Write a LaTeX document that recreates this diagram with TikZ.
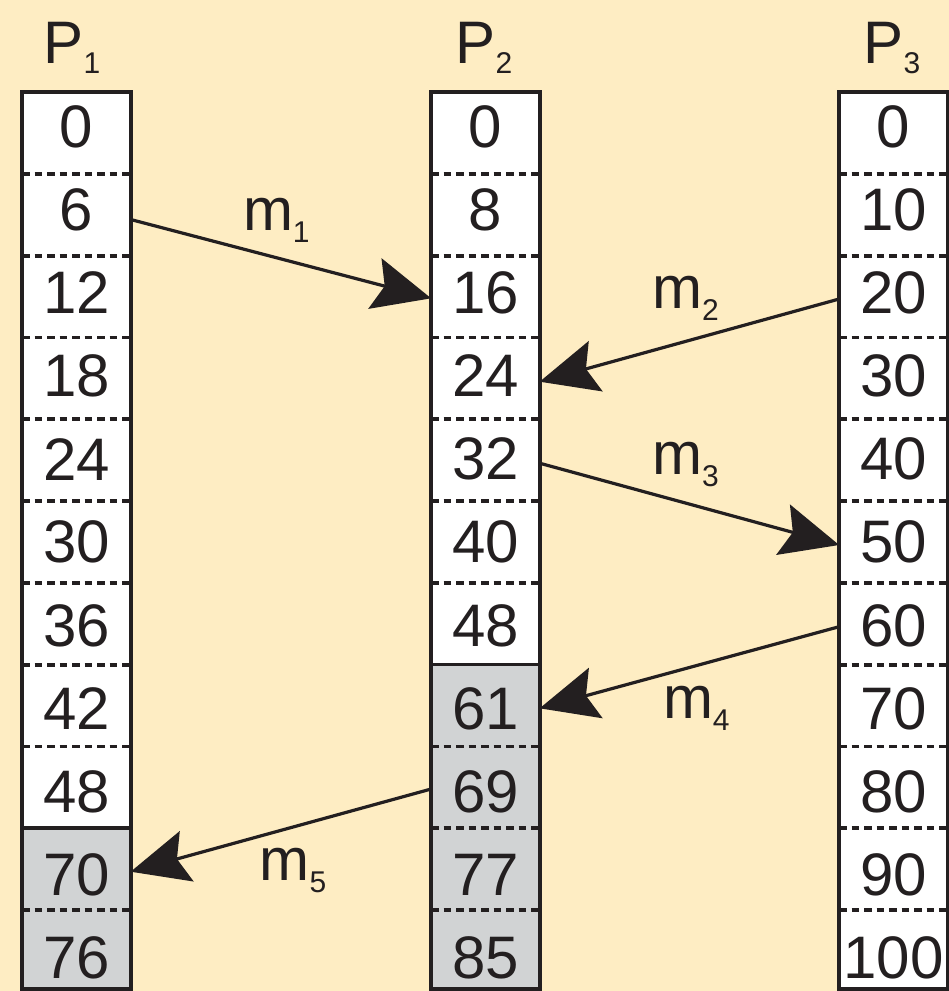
\documentclass[tikz,border=0pt]{standalone}
\usepackage{fontspec}
\setmainfont{Liberation Sans}
\usetikzlibrary{arrows.meta}
\definecolor{bgc}{HTML}{FEEDC3}
\definecolor{cellgrey}{HTML}{D1D3D4}
\definecolor{ink}{HTML}{231F20}
\begin{document}
\begin{tikzpicture}[x=1pt,y=-1pt,
  cell/.style={minimum width=108.5pt, minimum height=81.8pt, inner sep=0pt, outer sep=0pt},
  num/.style={font=\fontsize{60}{60}\selectfont, text=ink, inner sep=0pt},
  lbl/.style={font=\fontsize{60}{60}\selectfont, text=ink, inner sep=0pt, anchor=base west},
  sepline/.style={ink, line width=3.8pt, dash pattern=on 7.5pt off 5pt},
  solidsep/.style={ink, line width=3.6pt},
  frame/.style={ink, line width=3.8pt},
  msg/.style={ink, line width=3.2pt, -{Stealth[length=58pt,width=52pt,inset=10pt]}}
]
\fill[bgc] (0,0) rectangle (949,991);
\useasboundingbox (0,0) rectangle (949,991);

% cells
\foreach \c/\xc/\g in {1/76.4/9, 2/485.4/7, 3/893.4/11} {
  \foreach \i in {0,...,10} {
    \ifnum\i<\g \def\fc{white}\else\def\fc{cellgrey}\fi
    \node[cell, fill=\fc] (c\c r\i) at (\xc, {133+81.8*\i}) {};
  }
  \foreach \k in {1,...,10} {
    \ifnum\k=\g
      \draw[solidsep] ({\xc-54.25}, {92+81.8*\k}) -- ({\xc+54.25}, {92+81.8*\k});
    \else
      \draw[sepline] ({\xc-54.25}, {92+81.8*\k}) -- ({\xc+54.25}, {92+81.8*\k});
    \fi
  }
  \draw[frame] ({\xc-54.25}, 92) rectangle ({\xc+54.25}, 989);
}

% numbers
\foreach \v [count=\i from 0] in {0,6,12,18,24,30,36,42,48,70,76}
  \node[num] (ta\i) at (76.4, {126.5+83.15*\i}) {\v};
\foreach \v [count=\i from 0] in {0,8,16,24,32,40,48,61,69,77,85}
  \node[num] (tb\i) at (485.4, {126.5+83.15*\i}) {\v};
\foreach \v [count=\i from 0] in {0,10,20,30,40,50,60,70,80,90,100}
  \node[num] (tc\i) at (893.4, {126.5+83.15*\i}) {\v};

% process labels
\node[lbl] (P1) at (43.4,63) {P\raisebox{-10pt}{\fontsize{30}{30}\selectfont 1}};
\node[lbl] (P2) at (455.5,63) {P\raisebox{-10pt}{\fontsize{30}{30}\selectfont 2}};
\node[lbl] (P3) at (863.4,63) {P\raisebox{-10pt}{\fontsize{30}{30}\selectfont 3}};

% message labels
\node[lbl] (L1) at (242.8,230.7) {m\raisebox{-12pt}{\fontsize{30}{30}\selectfont 1}};
\node[lbl] (L2) at (652,308) {m\raisebox{-12pt}{\fontsize{30}{30}\selectfont 2}};
\node[lbl] (L3) at (652,474) {m\raisebox{-12pt}{\fontsize{30}{30}\selectfont 3}};
\node[lbl] (L4) at (662.8,718) {m\raisebox{-12pt}{\fontsize{30}{30}\selectfont 4}};
\node[lbl] (L5) at (259.4,880) {m\raisebox{-12pt}{\fontsize{30}{30}\selectfont 5}};

% messages
\draw[msg] ([yshift=-4.7pt]c1r1.east) -- ([yshift=-1.7pt]c2r2.west);
\draw[msg] ([yshift=-2.4pt]c3r2.west) -- ([yshift=-3.3pt]c2r3.east);
\draw[msg] ([yshift=-3pt]c2r4.east) -- ([yshift=-3pt]c3r5.west);
\draw[msg] ([yshift=-2.9pt]c3r6.west) -- ([yshift=-2.7pt]c2r7.east);
\draw[msg] ([yshift=-1.6pt]c2r8.west) -- ([yshift=-2.5pt]c1r9.east);
\end{tikzpicture}
\end{document}
